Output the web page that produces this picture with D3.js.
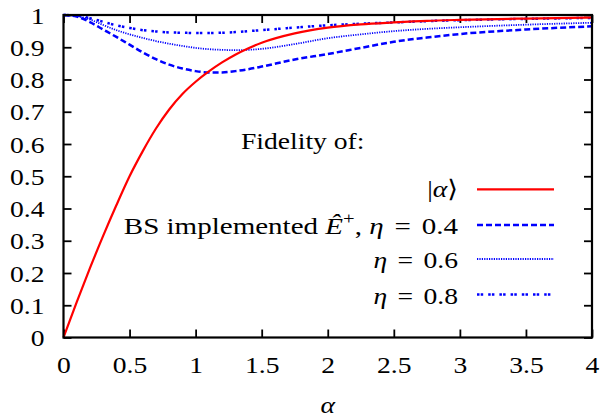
<!DOCTYPE html>
<html>
<head>
<meta charset="utf-8">
<script src="https://cdn.jsdelivr.net/npm/d3@7"></script>
<style>
  body { margin: 0; background: #fff; }
</style>
</head>
<body>
<svg id="chart" width="600" height="419"></svg>
<script>
// fidelity vs alpha, sampled on a common grid
var alphaGrid = [0, 0.1, 0.2, 0.3, 0.4, 0.5, 0.6, 0.7, 0.8, 0.9, 1.0, 1.1, 1.2, 1.3, 1.4, 1.5, 1.75, 2.0, 2.25, 2.5, 2.75, 3.0, 3.5, 4.0];
var coherent = [0, 0.11, 0.215, 0.315, 0.41, 0.50, 0.578, 0.648, 0.707, 0.755, 0.793, 0.825, 0.853, 0.877, 0.897, 0.914, 0.943, 0.961, 0.971, 0.977, 0.982, 0.985, 0.989, 0.992];
var eta04 = [1, 0.995, 0.978, 0.955, 0.932, 0.908, 0.884, 0.863, 0.846, 0.834, 0.826, 0.822, 0.822, 0.826, 0.832, 0.84, 0.862, 0.879, 0.898, 0.917, 0.93, 0.941, 0.955, 0.965];
var eta06 = [1, 0.997, 0.986, 0.969, 0.953, 0.94, 0.929, 0.919, 0.911, 0.904, 0.898, 0.894, 0.892, 0.891, 0.892, 0.895, 0.91, 0.928, 0.94, 0.95, 0.957, 0.962, 0.97, 0.976];
var eta08 = [1, 0.998, 0.99, 0.979, 0.968, 0.96, 0.953, 0.949, 0.946, 0.945, 0.944, 0.944, 0.945, 0.947, 0.95, 0.953, 0.961, 0.968, 0.973, 0.977, 0.981, 0.984, 0.988, 0.991];
var xTicks = [0, 0.5, 1, 1.5, 2, 2.5, 3, 3.5, 4];
var yTicks = [0, 0.1, 0.2, 0.3, 0.4, 0.5, 0.6, 0.7, 0.8, 0.9, 1];

var plotL = 63.5, plotR = 592, plotT = 15, plotB = 337.5;
var fontSize = 24, stretch = 1.15, tickLen = 8;
var serif = "font-family: 'Liberation Serif', 'Times New Roman', Tinos, 'DejaVu Serif', serif";

var svg = d3.select("#chart");
var x = d3.scaleLinear().domain([0, 4]).range([plotL, plotR]);
var y = d3.scaleLinear().domain([0, 1]).range([plotB, plotT]);

function fmt(d) { return String(d); }

// ticks point inward on all four sides
svg.append("g").attr("class", "xaxis").attr("transform", "translate(0," + plotB + ")")
    .call(d3.axisBottom(x).tickValues(xTicks).tickFormat(fmt).tickSizeInner(-tickLen).tickSizeOuter(0).tickPadding(18))
    .call(function(g) { g.select(".domain").remove(); });
svg.append("g").attr("transform", "translate(0," + plotT + ")")
    .call(d3.axisTop(x).tickValues(xTicks).tickFormat("").tickSizeInner(-tickLen).tickSizeOuter(0))
    .call(function(g) { g.select(".domain").remove(); });
svg.append("g").attr("class", "yaxis").attr("transform", "translate(" + plotL + ",0)")
    .call(d3.axisLeft(y).tickValues(yTicks).tickFormat(fmt).tickSizeInner(-tickLen).tickSizeOuter(0))
    .call(function(g) { g.select(".domain").remove(); });
svg.append("g").attr("transform", "translate(" + plotR + ",0)")
    .call(d3.axisRight(y).tickValues(yTicks).tickFormat("").tickSizeInner(-tickLen).tickSizeOuter(0))
    .call(function(g) { g.select(".domain").remove(); });

svg.selectAll("g").attr("font-family", null);
svg.selectAll(".tick line").attr("stroke", "#000").attr("stroke-width", 1.8);
svg.selectAll(".tick text").attr("style", serif).attr("font-size", fontSize).attr("fill", "#000")
    .attr("transform", "scale(" + stretch + ",1)");
svg.selectAll(".yaxis .tick text").attr("x", -19 / stretch).attr("dy", "0.34em");

var line = d3.line()
    .x(function(d, i) { return x(alphaGrid[i]); })
    .y(function(d) { return y(d); })
    .curve(d3.curveMonotoneX);

var series = [
    { values: coherent, color: "#ff0000", width: 2.2, dash: null },
    { values: eta04, color: "#0000ff", width: 2.5, dash: "6,3" },
    { values: eta06, color: "#0000ff", width: 1.8, dash: "1.2,1.2" },
    { values: eta08, color: "#0000ff", width: 2.5, dash: "2.5,1.2,2.5,5" }
];

var plot = svg.append("g");
series.slice().reverse().forEach(function(s) {
    plot.append("path").attr("d", line(s.values)).attr("fill", "none")
        .attr("stroke", s.color).attr("stroke-width", s.width)
        .attr("stroke-dasharray", s.dash);
});

// frame
svg.append("rect").attr("x", plotL).attr("y", plotT).attr("width", plotR - plotL).attr("height", plotB - plotT)
    .attr("fill", "none").attr("stroke", "#000").attr("stroke-width", 2.2);

function label(px, py, anchor, k) {
    return svg.append("text")
        .attr("style", serif)
        .attr("transform", "translate(" + px + "," + py + ") scale(" + (k || stretch) + ",1)")
        .attr("text-anchor", anchor).attr("font-size", fontSize);
}

// "η = v" with the wider spacing of a math relation
function etaText(t, v) {
    t.append("tspan").attr("font-style", "italic").text("η");
    t.append("tspan").attr("dx", 3).text(" = ");
    t.append("tspan").attr("dx", 3).text(v);
}

label(x(2), 413, "middle").append("tspan").attr("font-style", "italic").text("α");

label(241, 149, "start").text("Fidelity of:");

// legend
var legendX = 458, sampleX0 = 477, sampleX1 = 554;
var rows = [189.3, 225, 259, 294.5];

var t0 = label(legendX, rows[0] + 8, "end");
t0.append("tspan").text("|");
t0.append("tspan").attr("font-style", "italic").text("α");
t0.append("tspan").text("⟩");

var t1 = label(legendX, rows[1] + 9, "end", 1.21);
t1.append("tspan").text("BS implemented ");
t1.append("tspan").attr("font-style", "italic").text("Ê");
t1.append("tspan").attr("font-size", 17).attr("dy", -10).text("+");
t1.append("tspan").attr("dy", 10).text(", ");
etaText(t1, "0.4");

["0.6", "0.8"].forEach(function(v, i) {
    etaText(label(legendX, rows[i + 2] + 9, "end"), v);
});

series.forEach(function(s, i) {
    svg.append("line").attr("x1", sampleX0).attr("x2", sampleX1).attr("y1", rows[i]).attr("y2", rows[i])
        .attr("stroke", s.color).attr("stroke-width", s.width).attr("stroke-dasharray", s.dash);
});
</script>
</body>
</html>
